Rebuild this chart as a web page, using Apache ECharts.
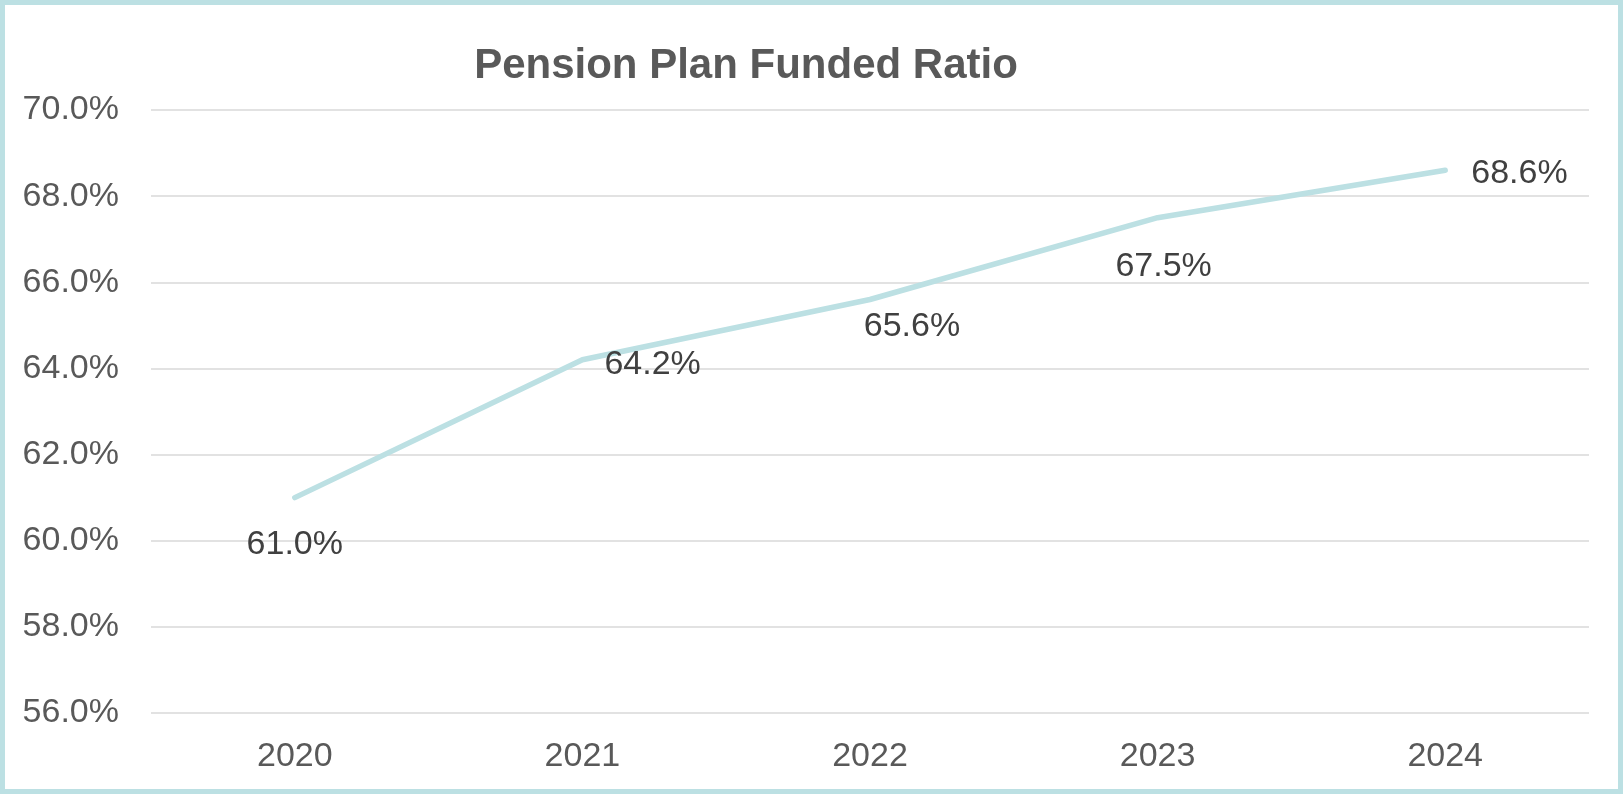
<!DOCTYPE html>
<html>
<head>
<meta charset="utf-8">
<script src="https://cdn.jsdelivr.net/npm/echarts@6/dist/echarts.min.js"></script>
<style>
html,body{margin:0;padding:0;background:#fff;}
#chart{width:1623px;height:794px;}
</style>
</head>
<body>
<div id="chart"></div>
<script>
const categories = ['2020', '2021', '2022', '2023', '2024'];
const fundedRatio = [61.0, 64.2, 65.6, 67.5, 68.6];
const yTicks = { min: 56, max: 70, step: 2 };
const titleText = 'Pension Plan Funded Ratio';

const labelCfg = [
  { position: 'bottom', distance: 30, offset: [0, 0] },
  { position: 'right', distance: 22, offset: [0, 5] },
  { position: 'bottom', distance: 10, offset: [42, 0] },
  { position: 'bottom', distance: 32, offset: [6, 0] },
  { position: 'right', distance: 26, offset: [0, 3] }
];

const font = '"Liberation Sans", Arial, sans-serif';
const lineColor = '#bce0e3';

const chart = echarts.init(document.getElementById('chart'), null, { renderer: 'canvas' });
chart.setOption({
  backgroundColor: '#fff',
  animation: false,
  title: {
    text: titleText,
    left: 741,
    top: 40,
    textAlign: 'center',
    textStyle: { fontFamily: font, fontWeight: 'bold', fontSize: 42, color: '#595959' }
  },
  graphic: [{
    type: 'rect',
    shape: { x: 2.5, y: 2.5, width: 1618, height: 789 },
    style: { fill: 'none', stroke: lineColor, lineWidth: 5 },
    silent: true
  }],
  grid: { left: 151, right: 34, top: 110, bottom: 81, containLabel: false },
  xAxis: {
    type: 'category',
    data: categories,
    boundaryGap: true,
    axisLine: { show: false },
    axisTick: { show: false },
    axisLabel: { fontFamily: font, fontSize: 34, color: '#595959', margin: 27 }
  },
  yAxis: {
    type: 'value',
    min: yTicks.min,
    max: yTicks.max,
    interval: yTicks.step,
    axisLine: { show: false },
    axisTick: { show: false },
    splitLine: { lineStyle: { color: '#d9d9d9', width: 1.5 } },
    axisLabel: {
      fontFamily: font, fontSize: 34, color: '#595959', margin: 32,
      formatter: v => v.toFixed(1) + '%'
    }
  },
  series: [{
    type: 'line',
    data: fundedRatio.map((v, i) => ({
      value: v,
      label: labelCfg[i]
    })),
    symbol: 'circle',
    symbolSize: 0.1,
    showSymbol: true,
    itemStyle: { color: lineColor },
    lineStyle: { color: lineColor, width: 5.5, cap: 'round' },
    label: {
      show: true,
      fontFamily: font,
      fontSize: 34,
      color: '#404040',
      formatter: p => p.value.toFixed(1) + '%'
    }
  }]
});
</script>
</body>
</html>
